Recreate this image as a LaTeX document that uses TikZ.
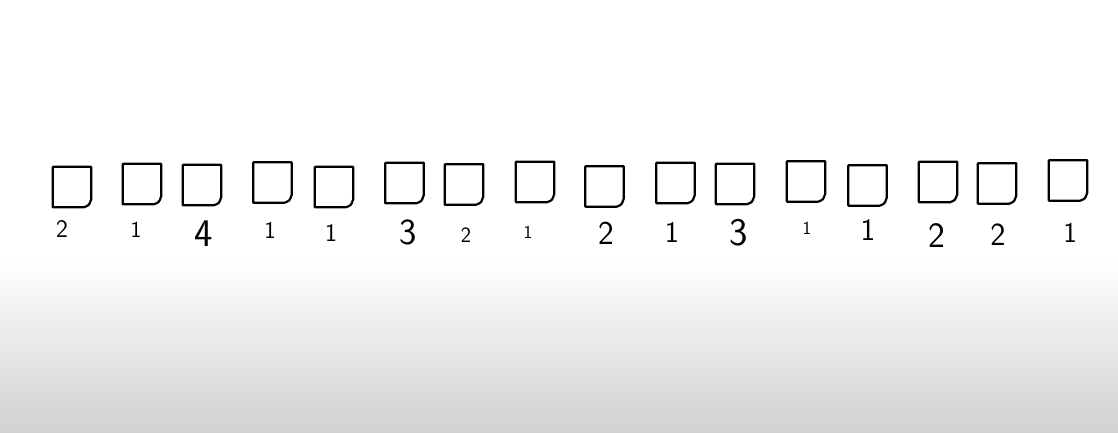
\documentclass[tikz,border=0pt]{standalone}
\usepackage{amsmath}
\definecolor{floor}{gray}{0.82}

\begin{document}
\begin{tikzpicture}[x=1pt, y=-1pt,
        sheet/.style={
        rectangle, draw=none,
        inner sep=0pt, minimum width=38pt, minimum height=40pt},
        num/.style={
        inner sep=0pt, font=\sffamily\fontsize{23}{23}\selectfont},
        edge/.style={draw=black, line width=2.2pt, line join=round},
        ]

        \useasboundingbox (0,0) rectangle (1118,432);
        \fill[white] (0,0) rectangle (1118,432);
        \shade[top color=white, bottom color=floor] (0,258) rectangle (1118,432);

        \node (s1) [sheet] at (72,187){};
        \node (s2) [sheet] at (142,184){};
        \node (s3) [sheet] at (202,185){};
        \node (s4) [sheet] at (272.5,182.5){};
        \node (s5) [sheet] at (334,187){};
        \node (s6) [sheet] at (404.5,183){};
        \node (s7) [sheet] at (464,184.5){};
        \node (s8) [sheet] at (535,182){};
        \node (s9) [sheet] at (604.5,186.5){};
        \node (s10) [sheet] at (675.5,183){};
        \node (s11) [sheet] at (735,184){};
        \node (s12) [sheet] at (806,181.5){};
        \node (s13) [sheet] at (867.5,185.5){};
        \node (s14) [sheet] at (938,182){};
        \node (s15) [sheet] at (997,183.5){};
        \node (s16) [sheet] at (1068,180.5){};

        \node (n1) [num, scale=1.1] at (62,229){2};
        \node (n2) [num] at (136,230){1};
        \node (n3) [num, scale=1.7] at (204,234){4};
        \node (n4) [num, scale=1.05] at (270,230){1};
        \node (n5) [num, scale=1.1] at (331,233){1};
        \node (n6) [num, scale=1.6] at (408,232){3};
        \node (n7) [num, scale=0.95] at (466,235){2};
        \node (n8) [num, scale=0.8] at (528,232){1};
        \node (n9) [num, scale=1.45] at (606,233){2};
        \node (n10) [num, scale=1.3] at (672,232){1};
        \node (n11) [num, scale=1.7] at (739,233){3};
        \node (n12) [num, scale=0.8] at (807,228){1};
        \node (n13) [num, scale=1.35] at (868,230){1};
        \node (n14) [num, scale=1.55] at (937,236){2};
        \node (n15) [num, scale=1.4] at (998,235){2};
        \node (n16) [num, scale=1.25] at (1070,233){1};

        \foreach \s in {s1,s2,s3,s4,s5,s6,s7,s8,s9,s10,s11,s12,s13,s14,s15,s16}
            \draw [edge] (\s.north west) -- (\s.north east)
                -- ([yshift=8pt]\s.south east)
                .. controls ([xshift=-2pt,yshift=2pt]\s.south east) .. ([xshift=-7pt]\s.south east)
                -- (\s.south west) -- cycle;
    \end{tikzpicture}
\end{document}
